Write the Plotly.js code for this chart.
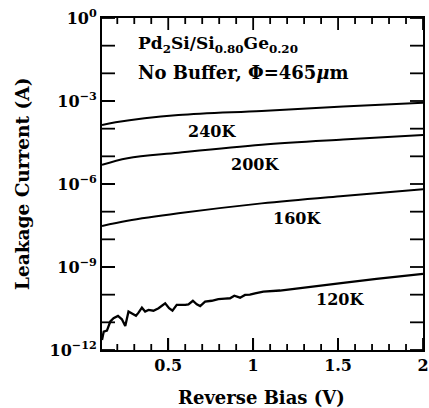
<!DOCTYPE html>
<html>
<head>
<meta charset="utf-8">
<script src="https://cdn.plot.ly/plotly-3.0.1.min.js"></script>
<style>html,body{margin:0;padding:0;background:#fff;}#chart{width:429px;height:408px;}</style>
</head>
<body>
<div id="chart"></div>
<script>
// Reverse bias (V) and log10 of leakage current (A)
const bias240 = [0.11, 0.19, 0.56, 1.05, 1.53, 2.0];
const log240  = [-3.87, -3.77, -3.51, -3.36, -3.2, -3.06];
const bias200 = [0.11, 0.26, 0.56, 1.05, 1.53, 2.0];
const log200  = [-5.31, -5.07, -4.87, -4.58, -4.39, -4.23];
const bias160 = [0.11, 0.26, 0.56, 1.05, 1.53, 2.0];
const log160  = [-7.52, -7.33, -7.06, -6.70, -6.43, -6.19];
const bias120 = [0.11,0.12,0.139,0.159,0.178,0.204,0.227,0.247,0.266,0.286,0.31,0.325,0.345,0.364,0.384,0.413,0.443,0.482,0.505,0.525,0.55,0.6,0.619,0.645,0.668,0.688,0.717,0.756,0.795,0.834,0.864,0.889,0.923,0.952,0.981,1.011,1.06,1.158,1.334,1.53,1.726,2.0];
const log120  = [-11.64,-11.34,-11.30,-10.97,-10.85,-10.77,-10.89,-11.13,-10.61,-10.67,-10.76,-10.65,-10.47,-10.61,-10.55,-10.58,-10.49,-10.31,-10.49,-10.58,-10.37,-10.37,-10.35,-10.22,-10.35,-10.41,-10.25,-10.22,-10.16,-10.14,-10.13,-10.04,-10.11,-10.01,-10.0,-9.95,-9.89,-9.85,-9.71,-9.57,-9.43,-9.25];

const seriesNames = ["240K", "200K", "160K", "120K"];
const labelBias = [0.76, 1.01, 1.26, 1.51];
const labelLog  = [-4.12, -5.31, -7.24, -10.19];

const xTickVals = [0.5, 1, 1.5, 2];
const xTickText = ["0.5", "1", "1.5", "2"];
const xMinorVals = [0.2,0.3,0.4,0.6,0.7,0.8,0.9,1.1,1.2,1.3,1.4,1.6,1.7,1.8,1.9];
const yTickVals = [1e-12,1e-11,1e-10,1e-9,1e-8,1e-7,1e-6,1e-5,1e-4,1e-3,1e-2,1e-1,1e0];
const yTickText = ["10<sup>−12</sup>","","","10<sup>−9</sup>","","","10<sup>−6</sup>","","","10<sup>−3</sup>","","","10<sup>0</sup>"];
const xTitle = "Reverse Bias (V)";
const yTitle = "Leakage Current (A)";

const pow10 = a => a.map(v => Math.pow(10, v));
const FONT = "DejaVu Serif";
const W = 429, H = 408, M = {l: 102, r: 6, t: 18, b: 58};
const plotW = W - M.l - M.r, plotH = H - M.t - M.b;
const X_RANGE = [0.11, 2], Y_RANGE = [-12, 0];

const traces = [
  {x: bias240, y: pow10(log240), mode: "lines", line: {color: "#000", width: 2, shape: "spline"}},
  {x: bias200, y: pow10(log200), mode: "lines", line: {color: "#000", width: 2, shape: "spline"}},
  {x: bias160, y: pow10(log160), mode: "lines", line: {color: "#000", width: 2, shape: "spline"}},
  {x: bias120, y: pow10(log120), mode: "lines", line: {color: "#000", width: 2.3}}
];

// inside tick marks on all four sides, drawn as one line trace built from the tick arrays
const tx = [], ty = [];
const yLenX = 13 / plotW * (X_RANGE[1] - X_RANGE[0]);
yTickVals.forEach(v => {
  tx.push(X_RANGE[0], X_RANGE[0] + yLenX, null, X_RANGE[1] - yLenX, X_RANGE[1], null);
  ty.push(v, v, null, v, v, null);
});
const decPerPx = (Y_RANGE[1] - Y_RANGE[0]) / plotH;
[[xTickVals, 12], [xMinorVals, 6]].forEach(([vals, len]) => vals.forEach(v => {
  tx.push(v, v, null, v, v, null);
  ty.push(Math.pow(10, Y_RANGE[0]), Math.pow(10, Y_RANGE[0] + len * decPerPx), null,
          Math.pow(10, Y_RANGE[1] - len * decPerPx), Math.pow(10, Y_RANGE[1]), null);
}));
traces.push({x: tx, y: ty, mode: "lines", connectgaps: false, line: {color: "#000", width: 1.8}, hoverinfo: "skip"});

const annotations = seriesNames.map((n, i) => ({
  x: labelBias[i], y: labelLog[i], xref: "x", yref: "y", text: n, showarrow: false,
  font: {family: FONT, size: 16, color: "#000", weight: "bold"}
}));
annotations.push({
  x: 0.105, y: 0.919, xref: "paper", yref: "paper", xanchor: "left", yanchor: "middle",
  text: "Pd<sub>2</sub>Si/Si<sub>0.80</sub>Ge<sub>0.20</sub>", showarrow: false,
  font: {family: FONT, size: 17, color: "#000", weight: "bold"}
});
annotations.push({
  x: 0.105, y: 0.837, xref: "paper", yref: "paper", xanchor: "left", yanchor: "middle",
  text: "No Buffer, Φ=465<i>μ</i>m", showarrow: false,
  font: {family: FONT, size: 18, color: "#000", weight: "bold"}
});
annotations.push({
  x: 0.498, y: -0.143, xref: "paper", yref: "paper", xanchor: "center", yanchor: "middle",
  text: xTitle, showarrow: false, font: {family: FONT, size: 18, color: "#000", weight: "bold"}
});
annotations.push({
  x: -0.249, y: 0.5, xref: "paper", yref: "paper", xanchor: "center", yanchor: "middle",
  text: yTitle, textangle: -90, showarrow: false, font: {family: FONT, size: 18.5, color: "#000", weight: "bold"}
});

const layout = {
  width: W, height: H,
  margin: M,
  paper_bgcolor: "#fff", plot_bgcolor: "#fff",
  showlegend: false,
  font: {family: FONT, color: "#000", size: 16, weight: "bold"},
  xaxis: {
    range: X_RANGE, tickvals: xTickVals, ticktext: xTickText,
    ticks: "inside", ticklen: 12, tickwidth: 1.5, tickcolor: "#000",
    showline: true, linewidth: 2, linecolor: "#000", mirror: true,
    showgrid: false, zeroline: false,
    tickfont: {family: FONT, size: 16, weight: "bold"}
  },
  yaxis: {
    type: "log", range: Y_RANGE, tickvals: yTickVals, ticktext: yTickText,
    ticks: "inside", ticklen: 13, tickwidth: 1.5, tickcolor: "#000",
    showline: true, linewidth: 2, linecolor: "#000", mirror: true,
    showgrid: false, zeroline: false,
    tickfont: {family: FONT, size: 16, weight: "bold"}
  },
  annotations: annotations
};

Plotly.newPlot("chart", traces, layout, {staticPlot: true});
</script>
</body>
</html>
